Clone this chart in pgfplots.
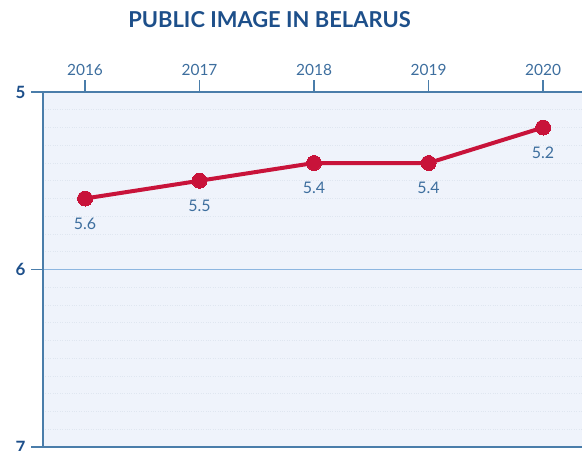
\documentclass[border=0pt]{standalone}
\usepackage{fontspec}
\setmainfont{Lato}
\usepackage{pgfplots}
\pgfplotsset{compat=1.18}
\definecolor{bgblue}{HTML}{EFF3FB}
\definecolor{axblue}{HTML}{4A7DAA}
\definecolor{lineblue}{HTML}{8DB6E0}
\definecolor{darkblue}{HTML}{1D4F8A}
\definecolor{labblue}{HTML}{3D6E9E}
\definecolor{linered}{HTML}{C8133A}
\definecolor{dotgrey}{HTML}{DFE6F0}
\begin{document}
\begin{tikzpicture}
\begin{axis}[
  name=ax,
  scale only axis,
  width=539bp, height=355bp,
  xmin=2015.633, xmax=2020.34,
  ymin=5, ymax=7,
  y dir=reverse,
  axis line style={draw=none},
  axis background/.style={fill=bgblue},
  xtick={2016,2017,2018,2019,2020},
  xticklabels={2016,2017,2018,2019,2020},
  xtick pos=right, xticklabel pos=right,
  ytick={5,6,7},
  ytick pos=left,
  tick align=outside,
  major tick length=12bp,
  tick style={color=axblue, line width=1.4bp},
  /pgf/number format/assume math mode=true,
  xticklabel style={font=\fontsize{15.5}{15.5}\selectfont, text=labblue, yshift=1bp},
  yticklabel style={font=\bfseries\fontsize{17}{17}\selectfont, text=darkblue, xshift=-2bp},
  minor y tick num=9,
  yminorgrids=true,
  minor grid style={color=dotgrey, dotted, line width=0.8bp},
  minor tick length=0pt,
  clip=false,
]
\draw[color=lineblue, line width=1.2bp] (rel axis cs:0,0.5) -- (rel axis cs:1,0.5);
\draw[color=axblue, line width=1.4bp] (rel axis cs:1,0) -- (rel axis cs:0,0) -- (rel axis cs:0,1) -- (rel axis cs:1,1);
\addplot[color=linered, line width=4bp, mark=*, mark size=7.5bp,
  mark options={fill=linered, draw=linered, line width=0pt},
  nodes near coords,
  point meta=explicit,
  every node near coord/.append style={anchor=north, yshift=-16bp, text=labblue,
    font=\fontsize{16}{16}\selectfont},
] coordinates {
  (2016,5.6) [5.6]
  (2017,5.5) [5.5]
  (2018,5.4) [5.4]
  (2019,5.4) [5.4]
  (2020,5.2) [5.2]
};
\end{axis}
\node[font=\bfseries\fontsize{22}{22}\selectfont, text=darkblue, anchor=center] at (226.5bp,427bp) {PUBLIC IMAGE IN BELARUS};
\pgfresetboundingbox
\path[use as bounding box] (-43bp,-4bp) rectangle (539bp,447bp);
\end{tikzpicture}
\end{document}
